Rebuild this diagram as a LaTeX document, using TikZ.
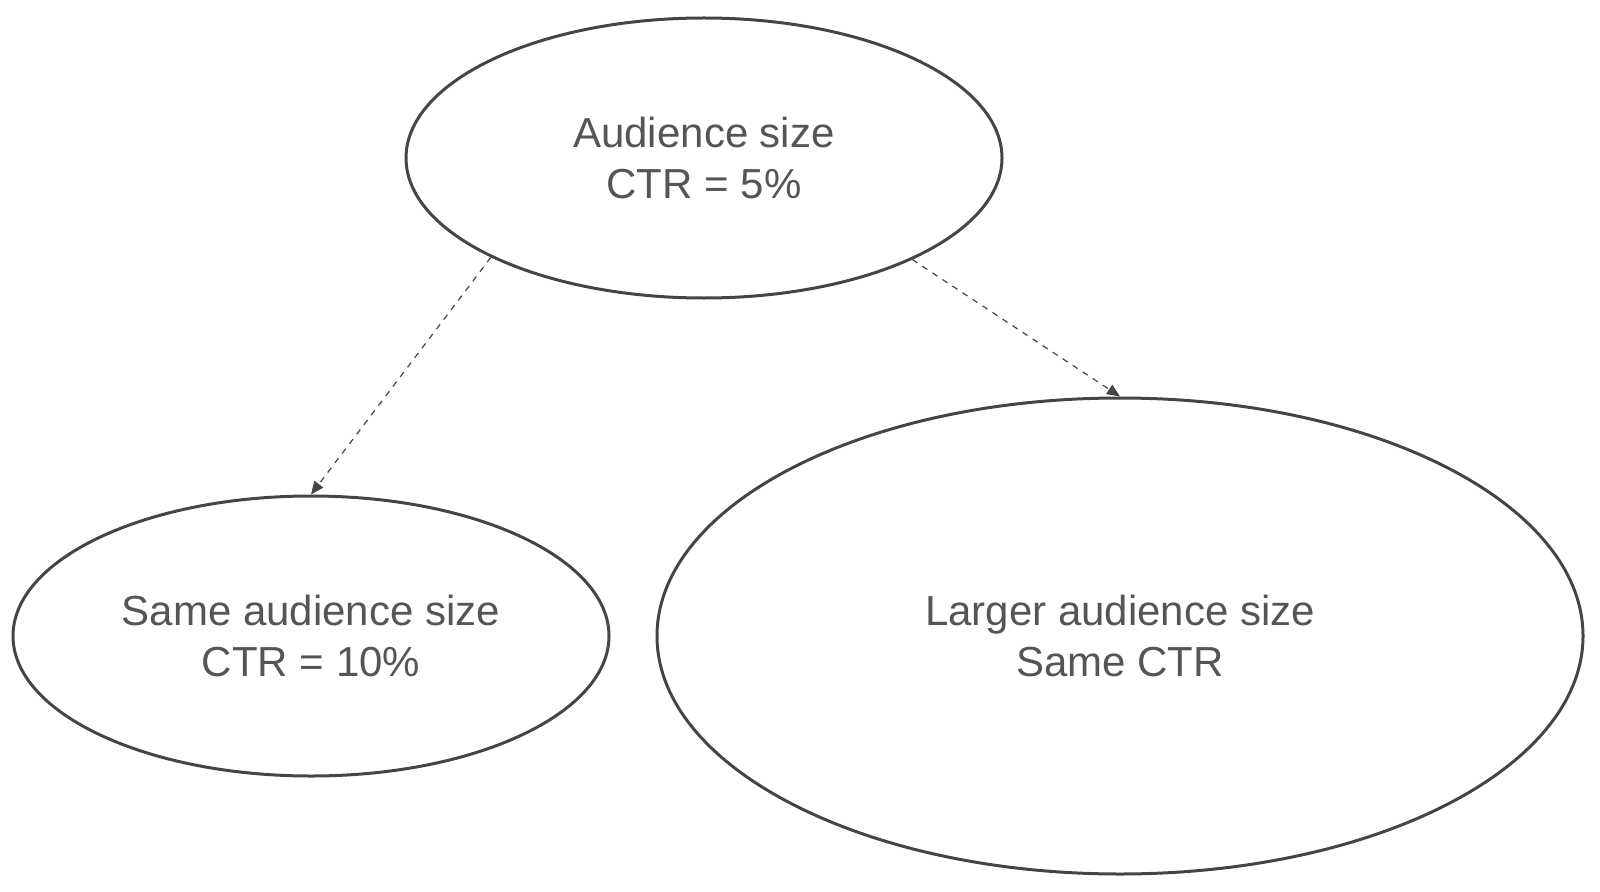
\documentclass[tikz,border=0pt]{standalone}
\usepackage{fontspec}
\setmainfont{Liberation Sans}
\usetikzlibrary{shapes.geometric,arrows.meta}
\definecolor{edgegray}{HTML}{454545}
\definecolor{textgray}{HTML}{555555}
\begin{document}
\begin{tikzpicture}[x=0.5pt,y=0.5pt,
    blob/.style={ellipse,draw=edgegray,line width=1.5pt,inner sep=0pt,align=center,
      text=textgray,font=\fontsize{21}{25.5}\selectfont},
    link/.style={draw=edgegray,dashed,line width=0.6pt,-{Triangle[length=6.5pt,width=5.5pt]}}]
    \useasboundingbox (0,0) rectangle (1600,891);
    \node[blob,minimum width=298pt,minimum height=140pt] (top) at (704,733) {Audience size\\CTR = 5\%};
    \node[blob,minimum width=298pt,minimum height=140pt] (same) at (311,255) {Same audience size\\CTR = 10\%};
    \node[blob,minimum width=463pt,minimum height=238pt] (larger) at (1120,255) {Larger audience size\\Same CTR};
    \draw[link] (top.205.8) -- (same.north);
    \draw[link] (top.334.1) -- (larger.north);
\end{tikzpicture}
\end{document}
